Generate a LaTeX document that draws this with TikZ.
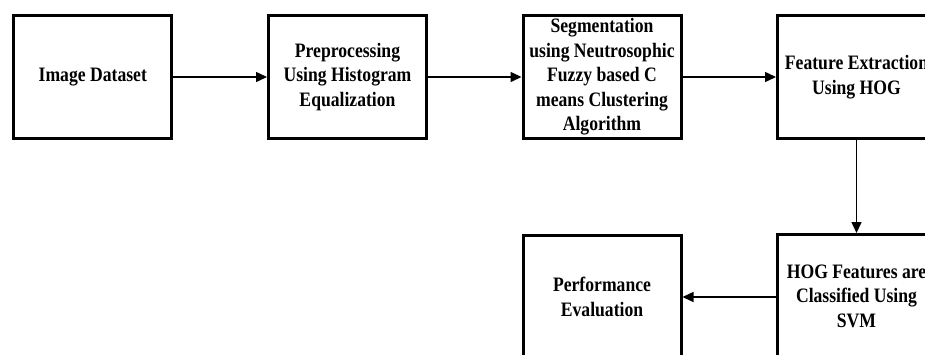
\documentclass[tikz,border=0pt]{standalone}
\usepackage{fontspec}
\setmainfont[FakeStretch=0.86]{Liberation Serif}
\usetikzlibrary{arrows.meta}
\begin{document}
\begin{tikzpicture}[x=1pt,y=-1pt,
  blk/.style={draw=black,line width=3pt,minimum width=158pt,minimum height=123pt,
    inner sep=0pt,align=center,
    font=\fontsize{20.5pt}{24.5pt}\selectfont\bfseries},
  conn/.style={line width=1.5pt,-{Triangle[length=11pt,width=10pt]}}]
\useasboundingbox (0,0) rectangle (925,354);
\node[blk] (img)  at (92.8,77)  {Image Dataset};
\node[blk] (pre)  at (347.5,77) {Preprocessing\\Using Histogram\\Equalization};
\node[blk] (seg)  at (602,77)   {Segmentation\\using Neutrosophic\\Fuzzy based C\\means Clustering\\Algorithm};
\node[blk] (feat) at (856.5,77) {Feature Extraction\\Using HOG};
\node[blk] (svm)  at (856.5,296) {HOG Features are\\Classified Using\\SVM};
\node[blk] (perf) at (602,297)  {Performance\\Evaluation};
\draw[conn] (img.east) -- (pre.west);
\draw[conn] (pre.east) -- (seg.west);
\draw[conn] (seg.east) -- (feat.west);
\draw[conn] (feat.south) -- (svm.north);
\draw[conn] (svm.west |- perf.east) -- (perf.east);
\end{tikzpicture}
\end{document}
